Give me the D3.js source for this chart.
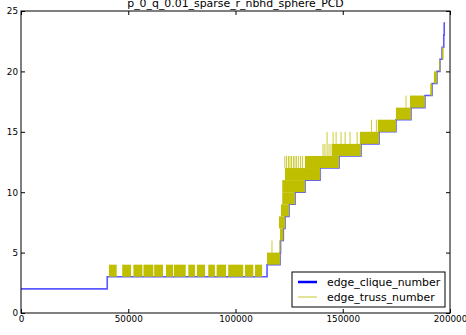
<!DOCTYPE html>
<html>
<head>
<meta charset="utf-8">
<script src="https://cdn.jsdelivr.net/npm/d3@7/dist/d3.min.js"></script>
<style>
  html, body { margin: 0; padding: 0; background: #fff; }
  svg { display: block; }
  text { font-family: "DejaVu Sans", sans-serif; }
</style>
</head>
<body>
<svg id="chart" width="466" height="335"></svg>
<script>
// ---- data ----
const titleText = "p_0_q_0.01_sparse_r_nbhd_sphere_PCD";
const xTicks = [0, 50000, 100000, 150000, 200000];
const yTicks = [0, 5, 10, 15, 20, 25];
const seriesNames = ["edge_clique_number", "edge_truss_number"];

// edge_clique_number: step starts (edge index, value)
const cliqueX = [0, 40200, 114700, 120750, 121000, 122300, 123080, 124940, 127740, 132400, 139400, 148250, 158500, 166900, 174800, 181800, 188300, 191600, 193900, 195300, 196300, 197100, 197300, 197700];
const cliqueY = [2, 3, 4, 5, 6, 7, 8, 9, 10, 11, 12, 13, 14, 15, 16, 17, 18, 19, 20, 21, 22, 23, 24, 24];

// edge_truss_number: ranges where it alternates between two values
const trussBandStart = [41000, 47200, 52400, 57100, 62100, 67600, 71300, 78000, 82000, 87300, 91200, 96600, 104400, 109100,
                        114700, 120500, 120750, 120280, 121210, 121800, 121800, 123080, 132400, 145000, 158000, 166400, 174800, 181350, 190800, 192500, 195000, 196300];
const trussBandEnd   = [44600, 51300, 56600, 61700, 66200, 70900, 76800, 81100, 85800, 90400, 95600, 103600, 108300, 112400,
                        120750, 121000, 122300, 123080, 124940, 127740, 132400, 139400, 148250, 158500, 166900, 174800, 181800, 188300, 191600, 193900, 195300, 197000];
const trussBandLow   = [3, 3, 3, 3, 3, 3, 3, 3, 3, 3, 3, 3, 3, 3,
                        4, 5, 6, 7, 8, 9, 10, 11, 12, 13, 14, 15, 16, 17, 18, 19, 20, 21];
const trussBandHigh  = [4, 4, 4, 4, 4, 4, 4, 4, 4, 4, 4, 4, 4, 4,
                        5, 6, 7, 8, 9, 10, 11, 12, 13, 14, 15, 16, 17, 18, 19, 20, 21, 22];

// isolated spikes of edge_truss_number
const spikeX    = [117000, 123000, 123800, 124700, 125400, 126100, 127000, 127700, 128400, 129300, 130300, 131200,
                   140800, 141700, 142700, 143600, 144500,
                   142700, 145500, 146900, 149200, 151100, 153400, 156700,
                   163400, 165700, 166600, 179500];
const spikeLow  = [5, 12, 12, 12, 12, 12, 12, 12, 12, 12, 12, 12,
                   13, 13, 13, 13, 13,
                   14, 14, 14, 14, 14, 14, 14,
                   15, 15, 15, 17];
const spikeHigh = [6, 13, 13, 13, 13, 13, 13, 13, 13, 13, 13, 13,
                   14, 14, 14, 14, 14,
                   15, 15, 15, 15, 15, 15, 15,
                   16, 16, 16, 18];

// ---- layout ----
const svg = d3.select("#chart");
const mLeft = 21, mRight = 450, mTop = 11, mBottom = 313;
const x = d3.scaleLinear().domain([0, 200000]).range([mLeft, mRight]);
const y = d3.scaleLinear().domain([0, 25]).range([mBottom, mTop]);

const fontTick = 8.8;
const blue = "#0000ff";
const yellow = "#bfbf00";

// clique line
const cliquePts = cliqueX.map((d, i) => [d, cliqueY[i]]);
svg.append("path")
  .datum(cliquePts)
  .attr("fill", "none")
  .attr("stroke", blue)
  .attr("stroke-opacity", 0.65)
  .attr("stroke-width", 1.6)
  .attr("d", d3.line().x(d => x(d[0])).y(d => y(d[1])).curve(d3.curveStepAfter));

// truss bands
const bands = trussBandStart.map((s, i) => ({ s, e: trussBandEnd[i], lo: trussBandLow[i], hi: trussBandHigh[i] }));
svg.append("g").selectAll("rect").data(bands).join("rect")
  .attr("x", d => x(d.s))
  .attr("width", d => Math.max(1, x(d.e) - x(d.s)))
  .attr("y", d => y(d.hi))
  .attr("height", d => y(d.lo) - y(d.hi))
  .attr("fill", yellow);

// truss spikes
const spikes = spikeX.map((s, i) => ({ s, lo: spikeLow[i], hi: spikeHigh[i] }));
svg.append("g").selectAll("line").data(spikes).join("line")
  .attr("x1", d => x(d.s)).attr("x2", d => x(d.s))
  .attr("y1", d => y(d.lo)).attr("y2", d => y(d.hi))
  .attr("stroke", yellow).attr("stroke-opacity", 0.8).attr("stroke-width", 1);

// frame
svg.append("rect")
  .attr("x", mLeft).attr("y", mTop)
  .attr("width", mRight - mLeft).attr("height", mBottom - mTop)
  .attr("fill", "none").attr("stroke", "#000").attr("stroke-width", 1);

// axes
function styleAxis(g, showLabels) {
  g.select(".domain").remove();
  g.selectAll(".tick line").attr("stroke", "#000");
  g.selectAll(".tick text").attr("font-family", "DejaVu Sans").attr("font-size", fontTick).attr("fill", "#000");
  if (!showLabels) g.selectAll(".tick text").remove();
}
svg.append("g").attr("transform", `translate(0,${mBottom})`)
  .call(d3.axisBottom(x).tickValues(xTicks).tickSize(-4).tickPadding(3).tickFormat(d3.format("d")))
  .call(g => styleAxis(g, true));
svg.append("g").attr("transform", `translate(0,${mTop})`)
  .call(d3.axisTop(x).tickValues(xTicks).tickSize(-4))
  .call(g => styleAxis(g, false));
svg.append("g").attr("transform", `translate(${mLeft},0)`)
  .call(d3.axisLeft(y).tickValues(yTicks).tickSize(-4).tickPadding(3).tickFormat(d3.format("d")))
  .call(g => styleAxis(g, true));
svg.append("g").attr("transform", `translate(${mRight},0)`)
  .call(d3.axisRight(y).tickValues(yTicks).tickSize(-4))
  .call(g => styleAxis(g, false));

// title
svg.append("text")
  .attr("x", (mLeft + mRight) / 2).attr("y", 7)
  .attr("text-anchor", "middle")
  .attr("font-size", 10.9)
  .text(titleText);

// legend
const lg = svg.append("g");
lg.append("rect").attr("x", 292).attr("y", 272).attr("width", 153).attr("height", 35)
  .attr("fill", "#fff").attr("stroke", "#000").attr("stroke-width", 1);
const legendItems = [
  { name: seriesNames[0], color: blue, width: 2.5, op: 1 },
  { name: seriesNames[1], color: yellow, width: 1.5, op: 0.55 }
];
legendItems.forEach((d, i) => {
  const ly = 282 + i * 15;
  lg.append("line").attr("x1", 298).attr("x2", 317).attr("y1", ly).attr("y2", ly)
    .attr("stroke", d.color).attr("stroke-width", d.width).attr("stroke-opacity", d.op);
  lg.append("text").attr("x", 327).attr("y", ly + 4).attr("font-size", 10.9).text(d.name);
});
</script>
</body>
</html>
